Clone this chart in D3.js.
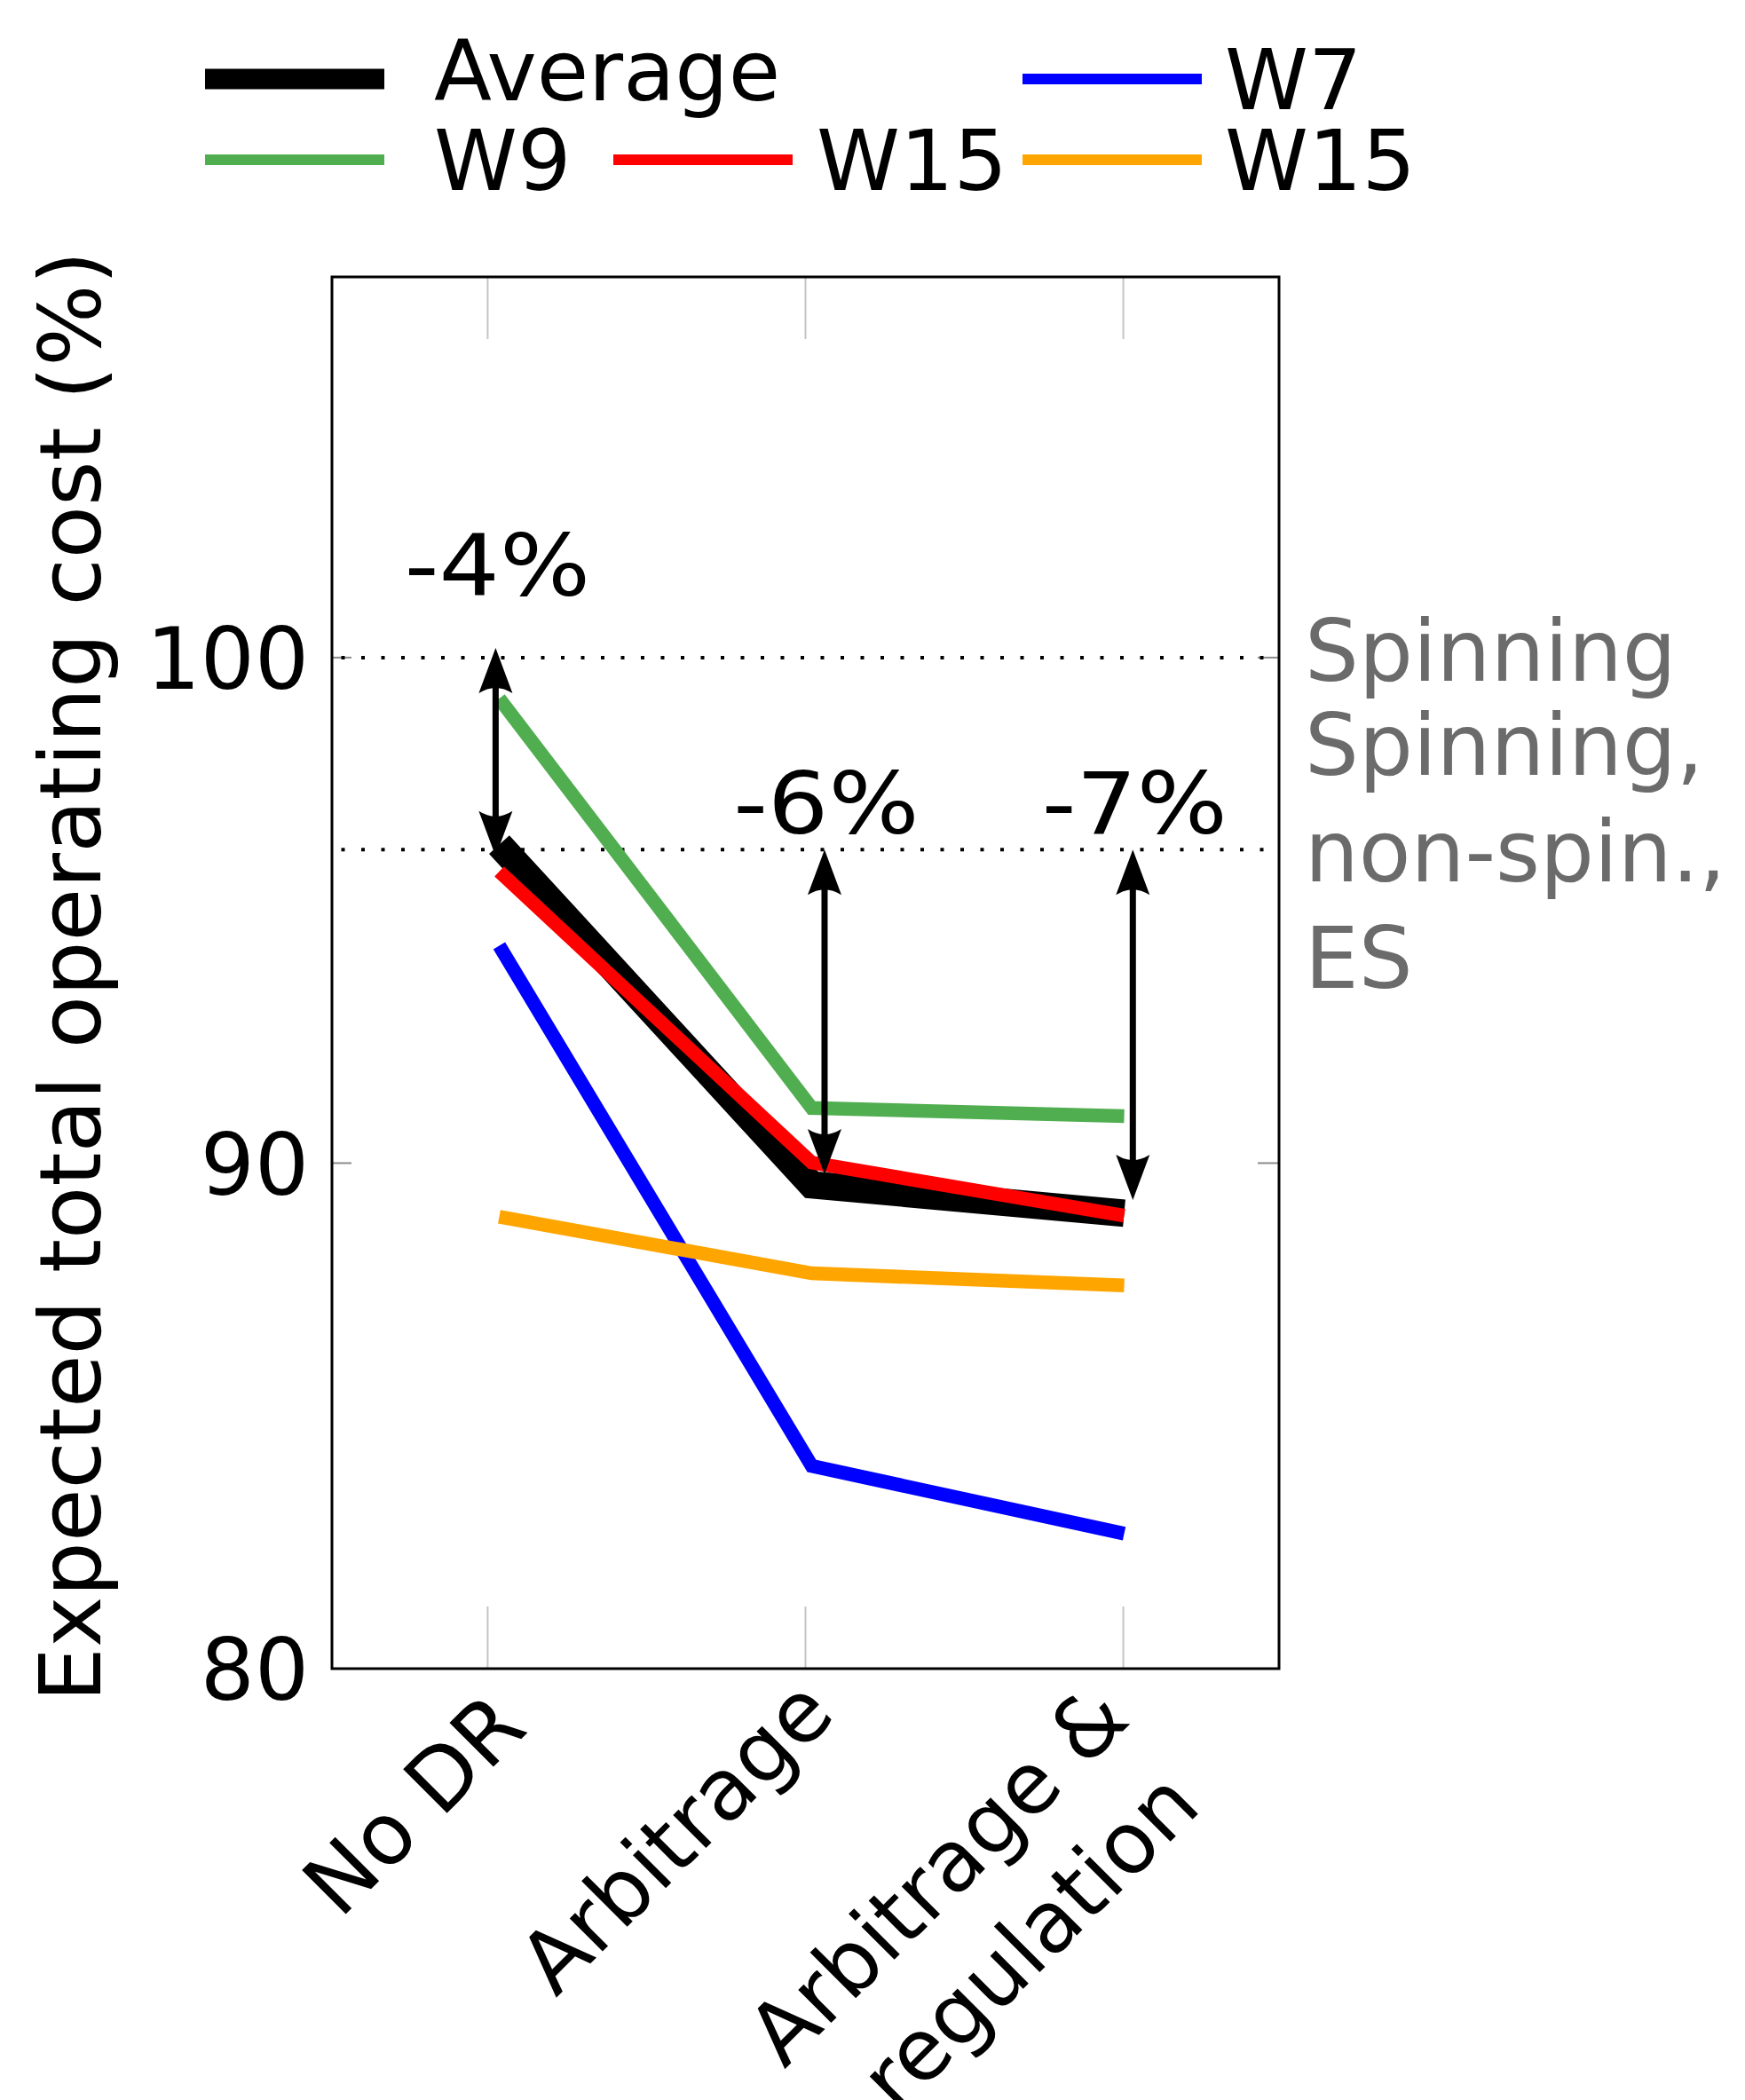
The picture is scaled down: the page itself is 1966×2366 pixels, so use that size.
<!DOCTYPE html>
<html>
<head>
<meta charset="utf-8">
<script src="https://cdn.jsdelivr.net/npm/d3@7"></script>
<style>
  body { margin: 0; background: #fff; }
  text { font-family: "DejaVu Sans", sans-serif; }
</style>
</head>
<body>
<div id="chart"></div>
<script>
// data
const categories = ["No DR", "Arbitrage", "Arbitrage & regulation"];
const categoryLines = [["No DR"], ["Arbitrage"], ["Arbitrage &", "regulation"]];

const average = [96.3, 89.57, 89.01];
const w7 = [94.3, 84.01, 82.67];
const w9 = [99.19, 91.09, 90.93];
const w15 = [95.77, 90.01, 88.96];
const w15b = [88.94, 87.82, 87.58];

const yTicks = [80, 90, 100];
const refLevels = [100, 96.2];
const refLabels = [["Spinning"], ["Spinning,", "non-spin.,", "ES"]];

// arrows, placed in axis coordinates (category index, value)
const arrowAt = [0.025, 1.06, 2.03];
const arrowFrom = [100.19, 96.2, 96.2];
const arrowTo = [96.07, 89.78, 89.27];
const arrowLabels = ["-4%", "-6%", "-7%"];
const arrowLabelAt = [101.23, 96.52, 96.52];

let width = 1966,
    height = 2366,
    margin = ({ top: 312, right: 525, bottom: 486, left: 374 });

const plotRight = width - margin.right,
      plotBottom = height - margin.bottom;

const svg = d3.select("#chart")
  .append("svg")
  .attr("width", width)
  .attr("height", height)
  .attr("viewBox", [0, 0, width, height]);

svg.append("rect").attr("width", width).attr("height", height).attr("fill", "#fff");

let x = d3.scalePoint()
  .domain(categories)
  .range([margin.left, plotRight])
  .padding(0.49);

// lines sit a touch inside the category ticks in the original
let xLine = d3.scalePoint()
  .domain(categories)
  .range([x(categories[0]) + 13, x(categories[2]) + 1]);

let xi = d3.scaleLinear()
  .domain([0, categories.length - 1])
  .range([x(categories[0]), x(categories[categories.length - 1])]);

let y = d3.scaleLinear()
  .domain([80, 107.53])
  .range([plotBottom, margin.top]);

// grid stubs at top and bottom of the frame
for (let c of categories) {
  svg.append("line")
    .attr("x1", x(c)).attr("x2", x(c))
    .attr("y1", margin.top).attr("y2", margin.top + 70)
    .attr("stroke", "#c4c4c4").attr("stroke-width", 2);
  svg.append("line")
    .attr("x1", x(c)).attr("x2", x(c))
    .attr("y1", plotBottom - 70).attr("y2", plotBottom)
    .attr("stroke", "#c4c4c4").attr("stroke-width", 2);
}

// y ticks inside frame, both sides
for (let v of yTicks) {
  svg.append("line")
    .attr("x1", margin.left).attr("x2", margin.left + 22)
    .attr("y1", y(v)).attr("y2", y(v))
    .attr("stroke", "#8c8c8c").attr("stroke-width", 2);
  svg.append("line")
    .attr("x1", plotRight - 24).attr("x2", plotRight)
    .attr("y1", y(v)).attr("y2", y(v))
    .attr("stroke", "#8c8c8c").attr("stroke-width", 2);
}

// dotted reference levels
for (let v of refLevels) {
  svg.append("line")
    .attr("x1", margin.left).attr("x2", plotRight - 10)
    .attr("y1", y(v)).attr("y2", y(v))
    .attr("stroke", "#000")
    .attr("stroke-width", 4)
    .attr("stroke-dasharray", "4 18.5")
    .attr("stroke-dashoffset", 12);
}

// y axis labels
svg.append("g")
  .attr("transform", `translate(${margin.left},0)`)
  .call(d3.axisLeft(y).tickValues(yTicks).tickSize(0).tickPadding(26))
  .call(g => g.select(".domain").remove())
  .selectAll("text")
  .attr("font-family", "DejaVu Sans")
  .attr("font-size", 96)
  .attr("fill", "#000")
  .attr("dy", "0.36em");

svg.append("text")
  .attr("transform", `translate(113,${(margin.top + plotBottom) / 2 + 4}) rotate(-90)`)
  .attr("text-anchor", "middle")
  .attr("font-size", 97)
  .attr("fill", "#000")
  .text("Expected total operating cost (%)");

// rotated category labels; each line's end point, offset from its tick
const labelEnds = [
  [[47, 70]],
  [[36, 54]],
  [[10, 60], [90, 158]]
];

categoryLines.forEach((lines, i) => {
  let c = categories[i];
  lines.forEach((t, k) => {
    let [dx, dy] = labelEnds[i][k];
    svg.append("text")
      .attr("transform", `translate(${x(c) + dx},${plotBottom + dy}) rotate(-45)`)
      .attr("text-anchor", "end")
      .attr("font-size", 96)
      .attr("fill", "#000")
      .text(t);
  });
});

// series
const series = [
  { name: "Average", values: average, color: "#000000", width: 31 },
  { name: "W7", values: w7, color: "#0000ff", width: 15.5 },
  { name: "W9", values: w9, color: "#50ae50", width: 15.5 },
  { name: "W15", values: w15, color: "#ff0000", width: 15.5 },
  { name: "W15", values: w15b, color: "#ffa500", width: 15.5 }
];

let line = d3.line()
  .x((d, i) => xLine(categories[i]))
  .y(d => y(d));

for (let s of series) {
  svg.append("path")
    .datum(s.values)
    .attr("fill", "none")
    .attr("stroke", s.color)
    .attr("stroke-width", s.width)
    .attr("stroke-linejoin", "miter")
    .attr("stroke-linecap", "butt")
    .attr("d", line);
}

// double arrows with labels
function head(px, py, dir) {
  // dir -1 points up, +1 points down
  return `M${px},${py} L${px + 19},${py - dir * 51} Q${px},${py - dir * 39} ${px - 19},${py - dir * 51} Z`;
}

arrowAt.forEach((a, i) => {
  let ax = xi(a),
      yt = y(arrowFrom[i]),
      yb = y(arrowTo[i]);
  svg.append("line")
    .attr("x1", ax).attr("x2", ax)
    .attr("y1", yt + 42).attr("y2", yb - 42)
    .attr("stroke", "#000").attr("stroke-width", 7);
  svg.append("path").attr("d", head(ax, yt, -1)).attr("fill", "#000");
  svg.append("path").attr("d", head(ax, yb, 1)).attr("fill", "#000");
  // the percentages are set a little wider than the rest of the text
  svg.append("text")
    .attr("transform", `translate(${ax + 2},${y(arrowLabelAt[i])}) scale(1.12,1)`)
    .attr("text-anchor", "middle")
    .attr("font-size", 96)
    .attr("fill", "#000")
    .text(arrowLabels[i]);
});

// frame
svg.append("rect")
  .attr("x", margin.left).attr("y", margin.top)
  .attr("width", plotRight - margin.left)
  .attr("height", plotBottom - margin.top)
  .attr("fill", "none")
  .attr("stroke", "#000")
  .attr("stroke-width", 3);

// labels for the reference levels, right of the frame
refLabels.forEach((lines, i) => {
  let base = y(refLevels[i]) + (lines.length > 1 ? -84 : 26);
  lines.forEach((t, k) => {
    svg.append("text")
      .attr("x", plotRight + 29)
      .attr("y", base + 120 * k)
      .attr("font-size", 96)
      .attr("fill", "#6b6b6b")
      .text(t);
  });
});

// legend
const legendCols = [231, 691, 1152];
const legendTextX = [489, 920, 1380];
const legendRows = [89, 180];
const legendSlots = [[0, 0], [0, 2], [1, 0], [1, 1], [1, 2]];

series.forEach((s, k) => {
  let [r, c] = legendSlots[k];
  let ly = legendRows[r];
  svg.append("line")
    .attr("x1", legendCols[c]).attr("x2", legendCols[c] + 202)
    .attr("y1", ly).attr("y2", ly)
    .attr("stroke", s.color)
    .attr("stroke-width", s.width > 20 ? 23 : 12);
  svg.append("text")
    .attr("x", legendTextX[c])
    .attr("y", ly + (s.name === "Average" ? 24 : 34))
    .attr("font-size", 95)
    .attr("fill", "#000")
    .text(s.name);
});
</script>
</body>
</html>
